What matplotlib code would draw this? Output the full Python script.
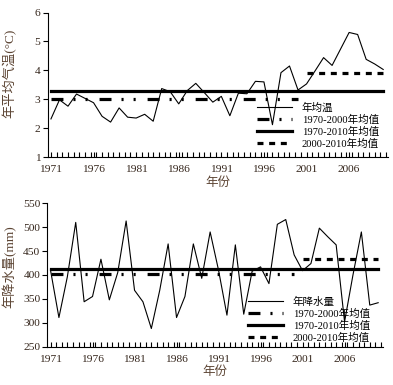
import numpy as np
import matplotlib
matplotlib.use("Agg")
import matplotlib.pyplot as plt

plt.rcParams['font.family'] = ['Liberation Serif', 'Noto Sans CJK SC']
plt.rcParams['lines.scale_dashes'] = False
plt.rcParams['axes.unicode_minus'] = False

years = list(range(1971, 2011))

# annual mean temperature (°C)
temp = [2.32, 2.98, 2.76, 3.18, 3.03, 2.88, 2.41, 2.21, 2.70, 2.38,
        2.35, 2.48, 2.24, 3.37, 3.26, 2.84, 3.30, 3.55, 3.23, 2.90,
        3.10, 2.43, 3.21, 3.19, 3.62, 3.60, 2.12, 3.92, 4.15, 3.32,
        3.53, 3.98, 4.44, 4.17, 4.74, 5.31, 5.24, 4.38, 4.22, 4.03]

# annual precipitation (mm)
precip = [410, 311, 396, 510, 344, 355, 433, 348, 405, 513,
          368, 344, 288, 368, 465, 311, 355, 465, 393, 490,
          410, 316, 463, 318, 408, 417, 382, 506, 516, 442,
          409, 424, 498, 480, 463, 302, 400, 490, 337, 342]

temp_means = {"1970-2000": 3.0, "1970-2010": 3.3, "2000-2010": 3.9}
precip_means = {"1970-2000": 402, "1970-2010": 413, "2000-2010": 433}

tick_years = [1971, 1976, 1981, 1986, 1991, 1996, 2001, 2006]

TICK_C = '#33241a'
LABEL_C = '#5c4433'
DASHDOT = (0, (8.6, 7.2, 1.5, 7.2, 1.5, 8.6))
DASHED = (0, (4.3, 4.1))


def draw_panel(ax, values, means, ylabel, yticks, ylim, legend_first, legend_xy):
    ax.plot(years, values, color='black', lw=0.8, label=legend_first)
    ax.plot([1971, 2000], [means["1970-2000"]] * 2, color='black', lw=2.3,
            linestyle=DASHDOT, label='1970-2000年均值')
    ax.plot([1971, 2010], [means["1970-2010"]] * 2, color='black', lw=2.3,
            label='1970-2010年均值')
    ax.plot([2001, 2010], [means["2000-2010"]] * 2, color='black', lw=2.3,
            linestyle=DASHED, label='2000-2010年均值')

    ax.set_xlim(1970.6, 2010.55)
    ax.set_ylim(*ylim)
    ax.set_yticks(yticks)
    ax.set_xticks(tick_years)
    ax.set_xticks(np.arange(1971, 2010.6, 2 / 3), minor=True)
    ax.tick_params(axis='x', which='both', direction='in', length=3.5, width=0.8,
                   labelsize=8.2, colors='black', labelcolor=TICK_C, pad=6)
    ax.tick_params(axis='y', direction='out', length=3.5, width=0.8,
                   labelsize=8.2, labelcolor=TICK_C, pad=1.5)
    for s in ['top', 'right']:
        ax.spines[s].set_visible(False)
    for s in ['left', 'bottom']:
        ax.spines[s].set_linewidth(0.8)

    ax.set_xlabel('年份', fontsize=9, color=LABEL_C, labelpad=1.5)
    ax.set_ylabel(ylabel, fontsize=9.5, color=LABEL_C)

    ax.legend(loc='upper left', bbox_to_anchor=legend_xy,
              bbox_transform=ax.figure.transFigure, frameon=False,
              fontsize=7.6, handlelength=3.3, handletextpad=0.95,
              labelspacing=0.18, borderpad=0, borderaxespad=0)


fig = plt.figure(figsize=(3.93, 3.85), dpi=100)
ax1 = fig.add_axes([0.121, 0.592, 0.866, 0.3755])
ax2 = fig.add_axes([0.120, 0.0995, 0.854, 0.3725])

draw_panel(ax1, temp, temp_means, '年平均气温(°C)', [1, 2, 3, 4, 5, 6], (1, 6),
           '年均温', (0.654, 0.733))
draw_panel(ax2, precip, precip_means, '年降水量(mm)',
           [250, 300, 350, 400, 450, 500, 550], (250, 550),
           '年降水量', (0.631, 0.23))

ax1.yaxis.set_label_coords(-0.092, 0.58)
ax2.yaxis.set_label_coords(-0.092, 0.56)

fig.savefig('out.png', dpi=100)
